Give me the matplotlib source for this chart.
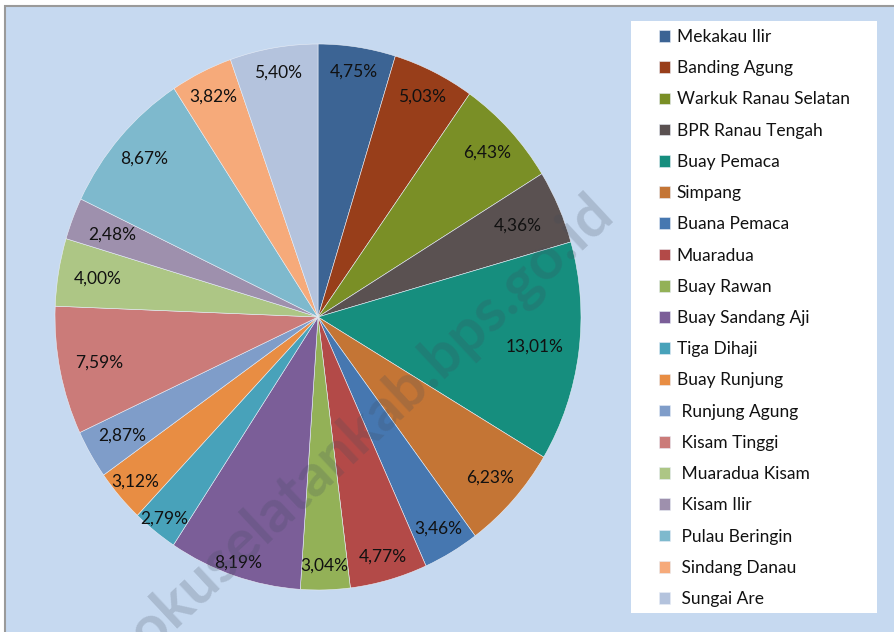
import matplotlib
matplotlib.use('Agg')
import matplotlib.pyplot as plt
from matplotlib.patches import Rectangle
import numpy as np

kecamatan = ['Mekakau Ilir', 'Banding Agung', 'Warkuk Ranau Selatan', 'BPR Ranau Tengah',
             'Buay Pemaca', 'Simpang', 'Buana Pemaca', 'Muaradua', 'Buay Rawan',
             'Buay Sandang Aji', 'Tiga Dihaji', 'Buay Runjung', ' Runjung Agung',
             ' Kisam Tinggi', ' Muaradua Kisam', ' Kisam Ilir', ' Pulau Beringin',
             ' Sindang Danau', ' Sungai Are']
persen = [4.75, 5.03, 6.43, 4.36, 13.01, 6.23, 3.46, 4.77, 3.04,
          8.19, 2.79, 3.12, 2.87, 7.59, 4.00, 2.48, 8.67, 3.82, 5.40]
warna = ['#3c6494', '#983e1a', '#7a8f26', '#5a5151', '#168e7e', '#c47535',
         '#4677b0', '#b34a48', '#93b157', '#7b5e98', '#48a2ba', '#e88d43',
         '#7f9dc9', '#cb7b79', '#adc685', '#9e90ad', '#7eb9cd', '#f6aa7a', '#b4c3dd']
# jarak label dari pusat (posisi "best fit" ala Excel)
jarak_label = [0.91, 0.90, 0.88, 0.83, 0.83, 0.88, 0.90, 0.91, 0.91, 0.95,
               0.94, 0.92, 0.86, 0.85, 0.85, 0.84, 0.88, 0.90, 0.91]

W, H = 894, 632
plt.rcParams['font.family'] = ['Lato', 'DejaVu Sans']
fig = plt.figure(figsize=(W / 100, H / 100), dpi=100)
fig.patch.set_facecolor('white')

# latar area chart
fig.patches.append(Rectangle((5 / W, -0.05), 1.1, 1.05 - 6 / H, transform=fig.transFigure,
                             facecolor='#c6d9f0', edgecolor='#9a9a9a', linewidth=1.5, zorder=-3))
# kotak legenda
fig.patches.append(Rectangle((631 / W, 1 - 613 / H), 246 / W, 592 / H, transform=fig.transFigure,
                             facecolor='white', edgecolor='none', zorder=-2))

ax = fig.add_axes([55 / W, 42 / H, 526 / W, 546 / H])
ax.set_zorder(1)
ax.patch.set_visible(False)
wedges, _ = ax.pie(persen, colors=warna, startangle=90, counterclock=False,
                   wedgeprops=dict(edgecolor='#e8eef7', linewidth=0.4))
ax.set_aspect('auto')
ax.set_xlim(-1, 1)
ax.set_ylim(-1, 1)

for w, v, d in zip(wedges, persen, jarak_label):
    mid = np.deg2rad((w.theta1 + w.theta2) / 2)
    ax.text(d * np.cos(mid), d * np.sin(mid), f'{v:.2f}'.replace('.', ',') + '%',
            ha='center', va='center', fontsize=12.5, color='#111111')

leg = fig.legend(wedges, kecamatan, loc='upper left', bbox_to_anchor=(659 / W, 1 - 29 / H),
                 frameon=False, fontsize=12.5, handlelength=0.66, handleheight=0.66,
                 handletextpad=0.35, labelspacing=0.877, borderaxespad=0, borderpad=0)
leg.set_zorder(2)
for t in leg.get_texts():
    t.set_color('#111111')

# watermark
fig.text(371 / W, 1 - 423 / H, 'okuselatankab.bps.go.id', rotation=43, ha='center', va='center',
         fontsize=43, fontweight='bold', color='#404a5a', alpha=0.21, zorder=10)

fig.savefig('out.png', dpi=100)
